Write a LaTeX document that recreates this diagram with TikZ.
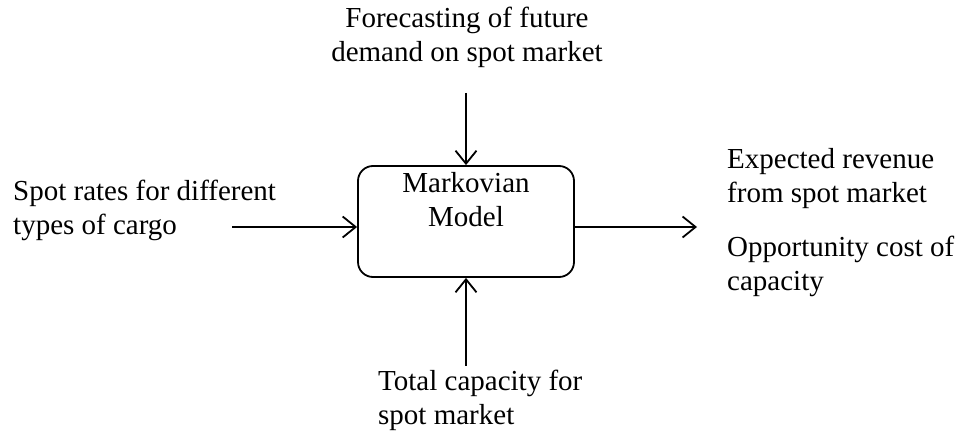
\documentclass[tikz,border=0pt]{standalone}
\usepackage{fontspec}
\setmainfont{Liberation Serif}
\usetikzlibrary{arrows.meta}
\begin{document}
\begin{tikzpicture}[x=1pt,y=-1pt,
  txt/.style={inner sep=0pt, font=\fontsize{29}{34}\selectfont},
  modelbox/.style={draw, line width=1.8pt, rounded corners=15pt, minimum width=216pt, minimum height=111pt, inner sep=0pt},
  flow/.style={line width=1.8pt, -{Straight Barb[length=13pt,width=21pt,line width=1.8pt]}}
]
\useasboundingbox (0,0) rectangle (959,443);
\node[modelbox] (model) at (466,221.5) {};
\node[txt, anchor=base, align=center] (modeltxt) at (466,227) {Markovian\\Model};
\node[txt, anchor=base, align=center] (forecast) at (467,62) {Forecasting of future\\demand on spot market};
\node[txt, anchor=base west, align=left] (spot) at (13,235) {Spot rates for different\\types of cargo};
\node[txt, anchor=base west, align=left] (rev) at (727,203) {Expected revenue\\from spot market};
\node[txt, anchor=base west, align=left] (opp) at (727,291) {Opportunity cost of\\capacity};
\node[txt, anchor=base west, align=left] (cap) at (378,425) {Total capacity for\\spot market};
\coordinate (topin) at (466,93);
\coordinate (leftin) at (232,227);
\coordinate (rightout) at (697,227);
\coordinate (botin) at (466,366);
\draw[flow] (topin) -- (model.north);
\draw[flow] (leftin) -- (leftin -| model.west);
\draw[flow] (rightout -| model.east) -- (rightout);
\draw[flow] (botin) -- (model.south);
\end{tikzpicture}
\end{document}
